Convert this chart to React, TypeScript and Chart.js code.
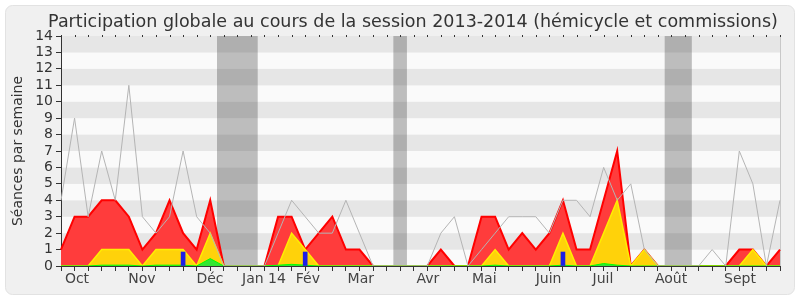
import { useEffect, useRef } from 'react';
import { Chart, registerables } from 'chart.js';

Chart.register(...registerables);

const TITLE = 'Participation globale au cours de la session 2013-2014 (hémicycle et commissions)';
const Y_TITLE = 'Séances par semaine';

// weekly values (54 weeks)
const hemicycle = [4, 9, 3, 7, 4, 11, 3, 2, 3, 7, 3, 2, 0, 0, 0, 0, 2, 4, 3, 2, 2, 4, 2, 0, 0, 0, 0, 0, 2, 3, 0, 1, 2, 3, 3, 3, 2, 4, 4, 3, 6, 4, 5, 1, 0, 0, 0, 0, 1, 0, 7, 5, 0, 4];
const presences = [1, 3, 3, 4, 4, 3, 1, 2, 4, 2, 1, 4, 0, 0, 0, 0, 3, 3, 1, 2, 3, 1, 1, 0, 0, 0, 0, 0, 1, 0, 0, 3, 3, 1, 2, 1, 2, 4, 1, 1, 4, 7, 0, 1, 0, 0, 0, 0, 0, 0, 1, 1, 0, 1];
const participations = [0, 0, 0, 1, 1, 1, 0, 1, 1, 1, 0, 2, 0, 0, 0, 0, 0, 2, 1, 0, 0, 0, 0, 0, 0, 0, 0, 0, 0, 0, 0, 0, 1, 0, 0, 0, 0, 2, 0, 0, 2, 4, 0, 1, 0, 0, 0, 0, 0, 0, 0, 1, 0, 0];
const interventions = [0, 0, 0, 0.05, 0.05, 0.05, 0, 0.05, 0.05, 0.05, 0, 0.45, 0, 0, 0, 0, 0.05, 0.1, 0.05, 0, 0, 0, 0, 0, 0, 0, 0, 0, 0, 0, 0, 0, 0.05, 0, 0, 0, 0, 0.05, 0, 0, 0.15, 0.05, 0, 0, 0, 0, 0, 0, 0, 0, 0, 0, 0, 0];
const questions = [null, null, null, null, null, null, null, null, null, 0.85, null, null, null, null, null, null, null, null, 0.85, null, null, null, null, null, null, null, null, null, null, null, null, null, null, null, null, null, null, 0.85, null, null, null, null, null, null, null, null, null, null, null, null, null, null, null, null];

const weekLabels = hemicycle.map((_, i) => String(i));

const monthLabels = ['Oct', 'Nov', 'Déc', 'Jan 14', 'Fév', 'Mar', 'Avr', 'Mai', 'Juin', 'Juil', 'Août', 'Sept'];
const monthPositions = [1.18, 5.97, 10.98, 14.96, 18.2, 22.1, 27.05, 31.2, 35.94, 39.95, 44.97, 50.05];

// vacation periods (in week index units)
const vacationStarts = [11.5, 24.5, 44.5];
const vacationEnds = [14.5, 25.5, 46.5];

const FONT = 'DejaVu Sans';

export default function App() {
  const ref = useRef<HTMLCanvasElement | null>(null);

  useEffect(() => {
    document.body.style.margin = '0';
    const canvas = ref.current;
    if (!canvas) return;

    const decor = {
      id: 'decor',
      beforeDraw(chart: any) {
        const { ctx, chartArea: a, scales } = chart;
        const y = scales.y;
        const xm = scales.xm;
        ctx.save();
        ctx.fillStyle = '#ffffff';
        ctx.fillRect(0, 0, chart.width, chart.height);
        // frame
        const fx = 5.5, fy = 5.5, fw = 789, fh = 289, r = 7;
        ctx.beginPath();
        ctx.moveTo(fx + r, fy);
        ctx.lineTo(fx + fw - r, fy);
        ctx.arcTo(fx + fw, fy, fx + fw, fy + r, r);
        ctx.lineTo(fx + fw, fy + fh - r);
        ctx.arcTo(fx + fw, fy + fh, fx + fw - r, fy + fh, r);
        ctx.lineTo(fx + r, fy + fh);
        ctx.arcTo(fx, fy + fh, fx, fy + fh - r, r);
        ctx.lineTo(fx, fy + r);
        ctx.arcTo(fx, fy, fx + r, fy, r);
        ctx.closePath();
        ctx.fillStyle = '#f0f0f0';
        ctx.fill();
        ctx.strokeStyle = '#e2e2e2';
        ctx.lineWidth = 1;
        ctx.stroke();
        // stripes
        for (let k = 0; k < 14; k++) {
          const top = y.getPixelForValue(k + 1);
          const bot = y.getPixelForValue(k);
          ctx.fillStyle = k % 2 === 1 ? '#e6e6e6' : '#fafafa';
          ctx.fillRect(a.left, top, a.right - a.left, bot - top);
        }
        // vacations
        ctx.fillStyle = 'rgba(50,50,50,0.3)';
        for (let v = 0; v < vacationStarts.length; v++) {
          const x0 = xm.getPixelForValue(vacationStarts[v]);
          const x1 = xm.getPixelForValue(vacationEnds[v]);
          ctx.fillRect(x0, a.top, x1 - x0, a.bottom - a.top);
        }
        // right border
        ctx.strokeStyle = '#c8c8c8';
        ctx.beginPath();
        ctx.moveTo(a.right + 0.5, a.top);
        ctx.lineTo(a.right + 0.5, a.bottom);
        ctx.stroke();
        ctx.restore();
      },
      afterDraw(chart: any) {
        const { ctx, chartArea: a, scales } = chart;
        const x = scales.x;
        ctx.save();
        // top tick dots
        ctx.fillStyle = '#333333';
        for (let i = 0; i < weekLabels.length; i++) {
          const px = Math.round(x.getPixelForValue(i));
          ctx.fillRect(px, a.top - 1, 1, 2);
        }
        // title
        ctx.fillStyle = '#333333';
        ctx.font = `17.5px "${FONT}"`;
        ctx.textAlign = 'center';
        ctx.textBaseline = 'alphabetic';
        ctx.fillText(TITLE, 413, 27);
        ctx.restore();
      },
    };

    const chart = new Chart(canvas, {
      type: 'line',
      data: {
        labels: weekLabels,
        datasets: [
          {
            label: 'Hémicycle',
            data: hemicycle,
            borderColor: '#b4b4b4',
            borderWidth: 1,
            pointRadius: 0,
            fill: false,
            tension: 0,
          },
          {
            type: 'bar',
            label: 'Questions',
            data: questions as any,
            backgroundColor: '#1e1ee6',
            borderWidth: 0,
            barThickness: 4,
          } as any,
          {
            label: 'Interventions',
            data: interventions,
            borderColor: '#00ff00',
            backgroundColor: '#33e633',
            borderWidth: 1,
            pointRadius: 0,
            fill: 'origin',
            tension: 0,
          },
          {
            label: 'Participations',
            data: participations,
            borderColor: '#ffee00',
            backgroundColor: '#ffd20a',
            borderWidth: 1.5,
            pointRadius: 0,
            fill: 'origin',
            tension: 0,
          },
          {
            label: 'Présences',
            data: presences,
            borderColor: '#ff0000',
            backgroundColor: '#ff3c3c',
            borderWidth: 2,
            pointRadius: 0,
            fill: 'origin',
            tension: 0,
          },
        ],
      },
      options: {
        animation: false,
        responsive: false,
        maintainAspectRatio: false,
        events: [],
        layout: { padding: { top: 36, right: 20, left: 0, bottom: 0 } },
        plugins: {
          legend: { display: false },
          tooltip: { enabled: false },
          title: { display: false },
        },
        scales: {
          x: {
            type: 'category',
            position: 'bottom',
            offset: false,
            weight: 0,
            grid: {
              display: true,
              drawOnChartArea: false,
              drawTicks: true,
              tickLength: 5,
              color: '#333333',
              offset: false,
            },
            border: { display: true, color: '#333333' },
            ticks: { display: false },
            afterFit: (axis: any) => {
              axis.height = 5;
            },
          },
          xm: {
            type: 'linear',
            position: 'bottom',
            min: 0,
            max: weekLabels.length - 1,
            weight: 1,
            grid: { display: false, drawTicks: false, tickLength: 0 },
            border: { display: false },
            afterBuildTicks: (axis: any) => {
              axis.ticks = monthPositions.map((v) => ({ value: v }));
            },
            ticks: {
              autoSkip: false,
              maxRotation: 0,
              padding: 0,
              color: '#444444',
              font: { family: FONT, size: 14 },
              callback: (_v: any, idx: number) => monthLabels[idx],
            },
            afterFit: (axis: any) => {
              axis.height = 29;
            },
          },
          y: {
            type: 'linear',
            min: 0,
            max: 14,
            grid: {
              display: true,
              drawOnChartArea: false,
              drawTicks: true,
              tickLength: 5,
              color: '#333333',
            },
            border: { display: true, color: '#333333' },
            ticks: {
              stepSize: 1,
              autoSkip: false,
              padding: 3,
              color: '#333333',
              font: { family: FONT, size: 14 },
            },
            title: {
              display: true,
              text: Y_TITLE,
              color: '#333333',
              font: { family: FONT, size: 14 },
              padding: { top: 10, bottom: 0 },
            },
            afterFit: (axis: any) => {
              axis.width = 61;
            },
          },
        },
      },
      plugins: [decor],
    });

    return () => chart.destroy();
  }, []);

  return (
    <div style={{ width: 800, height: 300 }}>
      <canvas ref={ref} width={800} height={300} style={{ display: 'block', width: 800, height: 300 }} />
    </div>
  );
}
